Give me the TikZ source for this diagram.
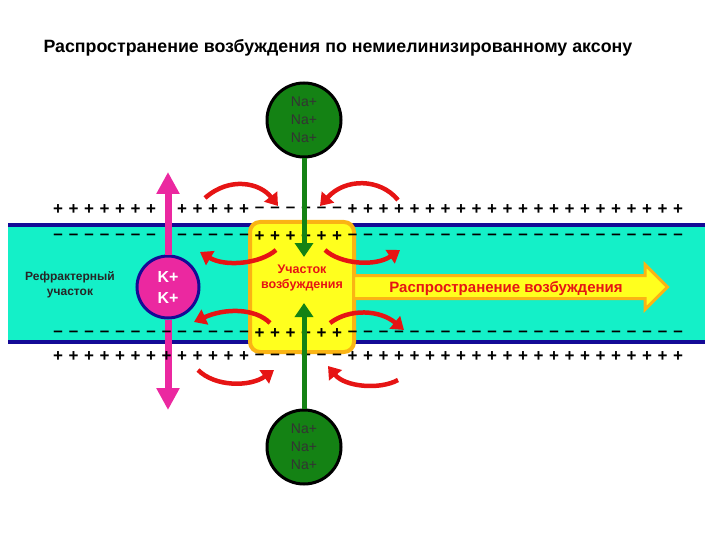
\documentclass[tikz,border=0pt]{standalone}
\usepackage{fontspec}
\setmainfont{Liberation Sans}
\usetikzlibrary{arrows.meta,shapes.arrows}
\definecolor{cyanb}{RGB}{20,240,200}
\definecolor{navy}{RGB}{20,10,150}
\definecolor{grn}{RGB}{20,130,20}
\definecolor{mag}{RGB}{235,40,160}
\definecolor{ylw}{RGB}{255,255,30}
\definecolor{org}{RGB}{250,180,20}
\definecolor{redd}{RGB}{230,20,20}
\tikzset{
 charge/.style={font=\fontsize{17}{17}\selectfont\bfseries, inner sep=0},
 naball/.style={circle, draw=black, line width=3pt, fill=grn, minimum size=74pt, align=center, font=\fontsize{14}{18}\selectfont, text=black!80},
 redarr/.style={draw=redd, line width=4.5pt, -{Triangle[length=12pt,width=16pt]}},
 grarr/.style={draw=grn, line width=5pt, -{Triangle[length=14pt,width=18pt]}},
 magarr/.style={draw=mag, line width=7pt, -{Triangle[length=22pt,width=22pt]}},
}
\begin{document}
\begin{tikzpicture}[x=1pt,y=-1pt]
\useasboundingbox (0,0) rectangle (720,540);
\node[font=\fontsize{17.8}{18}\selectfont\bfseries, anchor=west] (title) at (40,48) {Распространение возбуждения по немиелинизированному аксону};
% axon
\fill[cyanb] (8,225) rectangle (705,342);
\draw[navy, line width=4pt] (8,225) -- (705,225);
\draw[navy, line width=4pt] (8,342) -- (705,342);
% magenta arrows
\node[circle, draw=navy, line width=3pt, fill=mag, minimum size=62pt, text=white, align=center, font=\fontsize{16}{21}\selectfont\bfseries] (k) at (168,287) {K+\\K+};
\coordinate (kt) at (168,172);
\coordinate (kb) at (168,410);
\draw[magarr] (k.north) -- (kt);
\draw[magarr] (k.south) -- (kb);
% yellow box and arrow
\node[draw=org, line width=4pt, fill=ylw, rounded corners=10pt, minimum width=104pt, minimum height=130pt] (box) at (302,287) {};
\node[single arrow, draw=org, line width=3pt, fill=ylw, minimum height=314pt, minimum width=44pt, single arrow head extend=11pt, inner sep=0pt, text height=20pt, anchor=west] (prop) at (352,287) {};
\node[text=redd, font=\fontsize{15}{15}\selectfont\bfseries] (proptxt) at (506,289) {Распространение возбуждения};
\node[text=redd, font=\fontsize{12.5}{15}\selectfont\bfseries, align=center] (boxtxt) at (302,278) {Участок\\возбуждения};
\node[font=\fontsize{12}{15}\selectfont\bfseries, text=black!85, align=center] (refr) at (70,285) {Рефрактерный\\участок};
% charges
\foreach \i in {0,...,40}{
  \pgfmathsetmacro\xx{58+15.5*\i}
  \ifnum\i<13 \def\o{+}\def\n{--}\else\ifnum\i>18 \def\o{+}\def\n{--}\else\def\o{--}\def\n{+}\fi\fi
  \ifnum\i=7\else
  \node[charge] at (\xx,210) {\o};
  \node[charge] at (\xx,237) {\n};
  \fi
  \node[charge] at (\xx,357) {\o};
  \node[charge] at (\xx,334) {\n};
}
% Na balls
\node[naball] (na1) at (304,120) {Na+\\Na+\\Na+};
\node[naball] (na2) at (304,447) {Na+\\Na+\\Na+};
\coordinate (g1) at (304,257);
\coordinate (g2) at (304,303);
\draw[grarr] (na1.south) -- (g1);
\draw[grarr] (na2.north) -- (g2);
% red arrows
\draw[redarr] (205,198) .. controls (230,176) and (260,183) .. (278,206);
\draw[redarr] (398,200) .. controls (380,178) and (345,178) .. (320,206);
\draw[redarr] (276,250) .. controls (260,264) and (225,267) .. (200,252);
\draw[redarr] (325,250) .. controls (340,264) and (375,267) .. (400,250);
\draw[redarr] (270,323) .. controls (255,308) and (225,308) .. (194,322);
\draw[redarr] (330,323) .. controls (350,308) and (380,310) .. (404,330);
\draw[redarr] (198,370) .. controls (215,387) and (250,387) .. (274,370);
\draw[redarr] (398,380) .. controls (380,390) and (345,387) .. (328,366);
\end{tikzpicture}
\end{document}
